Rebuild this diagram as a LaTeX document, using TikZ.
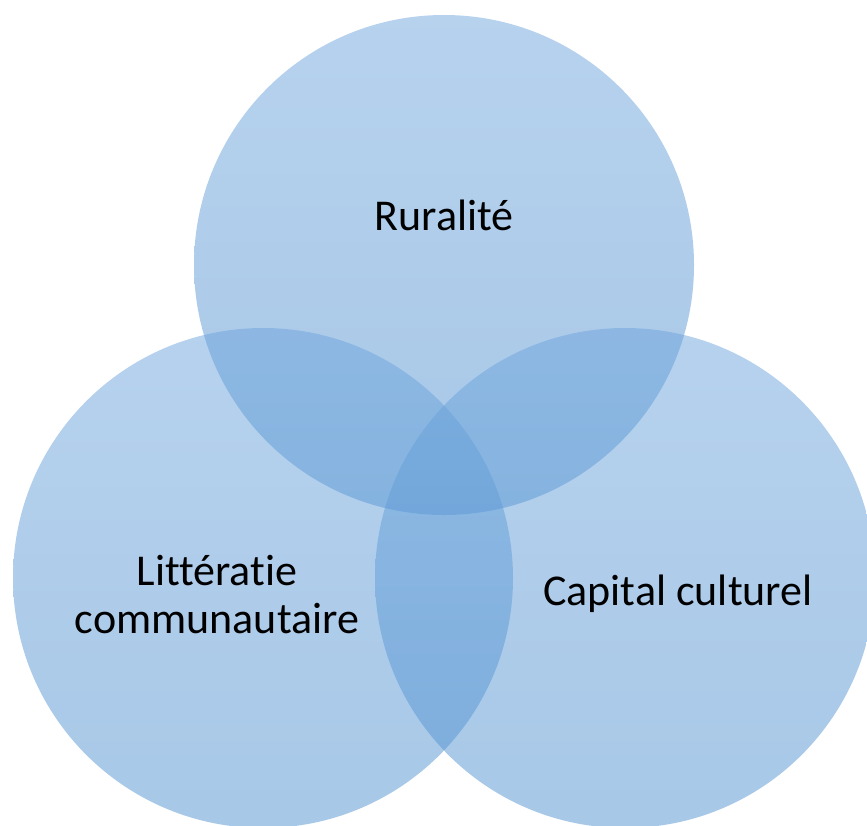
\documentclass[tikz,border=0pt]{standalone}
\usepackage{fontspec}
\setmainfont[Ligatures=NoCommon]{Carlito}
\definecolor{venntop}{RGB}{110,165,220}
\definecolor{vennbot}{RGB}{80,145,208}
\begin{document}
\begin{tikzpicture}[x=1pt,y=-1pt,
  venncircle/.style={top color=venntop,bottom color=vennbot,shading angle=0,fill opacity=0.5,draw=none},
  lbl/.style={font=\fontsize{44}{48}\selectfont,align=center,text=black}]
\useasboundingbox (0,0) rectangle (867,825);
\clip (0,0) rectangle (867,825);
\path[venncircle] (444,265) circle[radius=250];
\path[venncircle] (263,578) circle[radius=250];
\path[venncircle] (625,578) circle[radius=250];
\node[lbl] (r) at (444,215) {Ruralité};
\node[lbl] (l) at (217,595) {Littératie\\communautaire};
\node[lbl] (c) at (678,594) {Capital culturel};
\end{tikzpicture}
\end{document}
